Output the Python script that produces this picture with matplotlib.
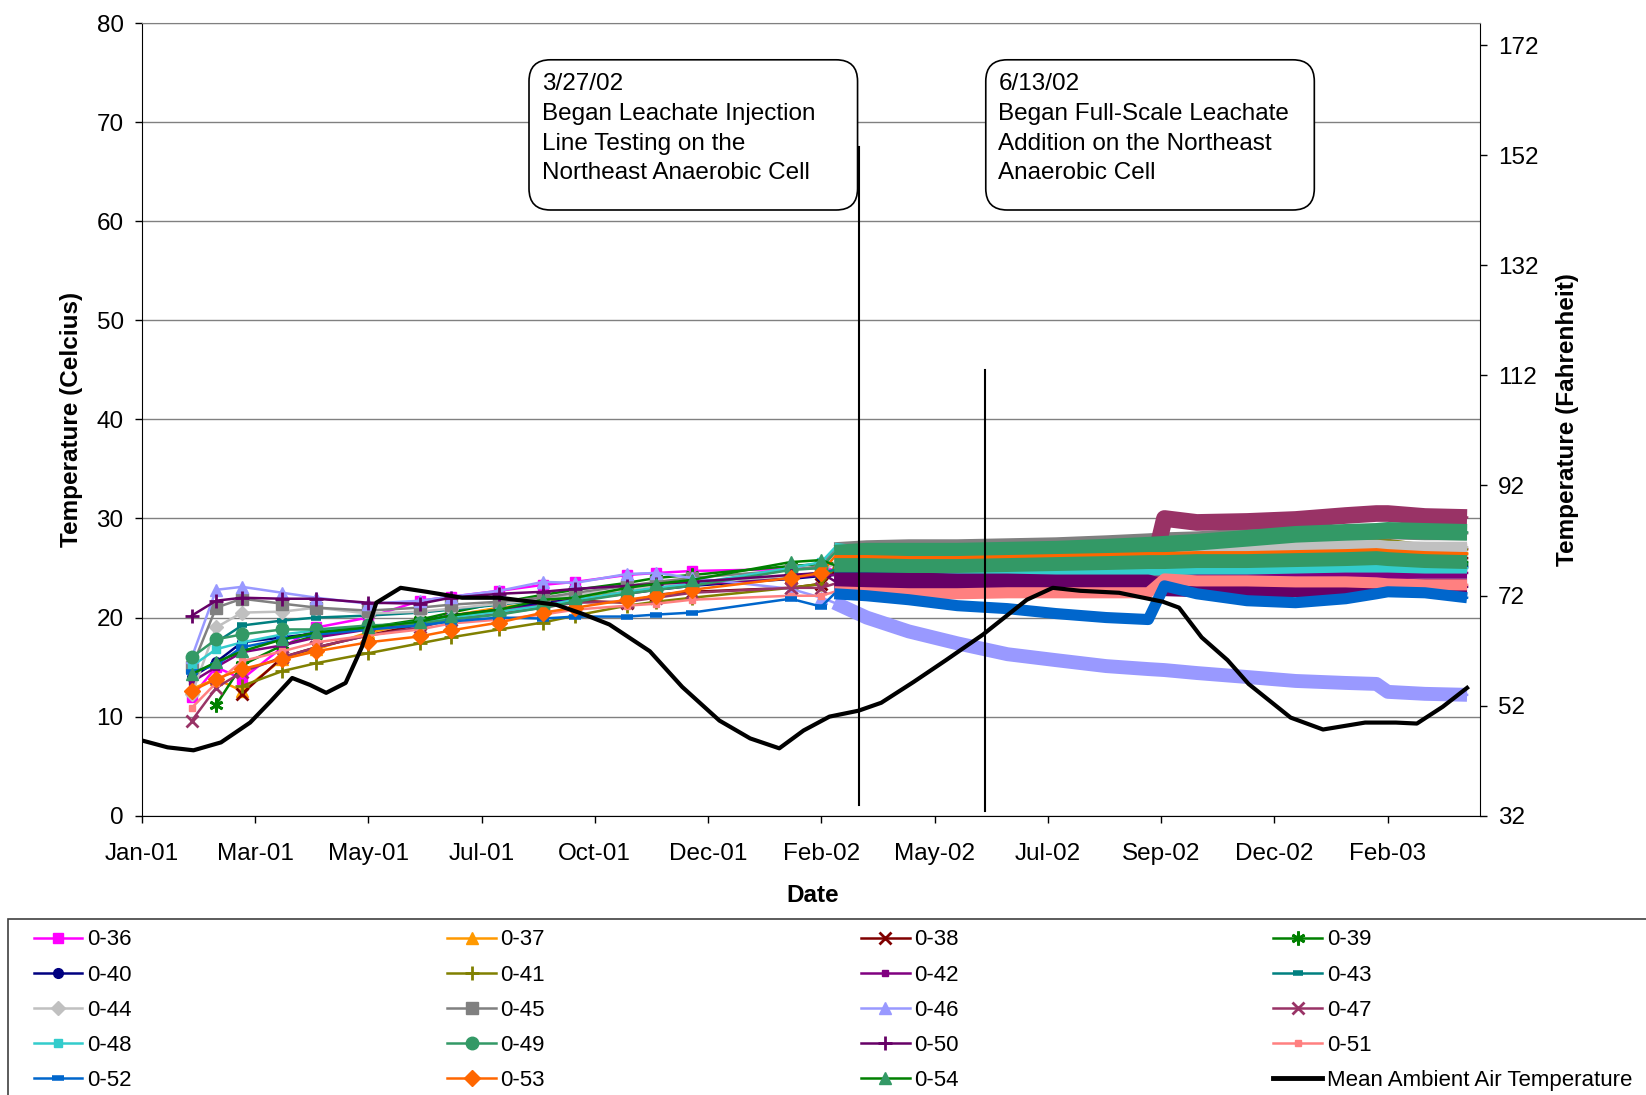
import numpy as np
import matplotlib
matplotlib.use('Agg')
import matplotlib.pyplot as plt
import matplotlib.dates as mdates
from matplotlib.patches import FancyBboxPatch, Rectangle
from matplotlib.lines import Line2D

plt.rcParams['font.family'] = ['Liberation Sans', 'DejaVu Sans']

nan = np.nan

# --- DATA ---
# monthly-ish readings 2001 - Feb 2002
S_DATES = ['2001-02-01', '2001-02-16', '2001-03-04', '2001-03-29', '2001-04-19', '2001-05-21',
           '2001-06-22', '2001-07-11', '2001-08-10', '2001-09-06', '2001-09-26', '2001-10-28',
           '2001-11-15', '2001-12-07', '2002-02-06', '2002-02-25']
# continuous logger readings Mar 2002 - Mar 2003
D_DATES = ['2002-03-05', '2002-03-25', '2002-04-20', '2002-05-20', '2002-06-20', '2002-07-20',
           '2002-08-20', '2002-09-15', '2002-09-25', '2002-10-15', '2002-11-15', '2002-12-15',
           '2003-01-15', '2003-02-03', '2003-02-10', '2003-03-05', '2003-03-31']

NAMES = ['0-36', '0-37', '0-38', '0-39', '0-40', '0-41', '0-42', '0-43', '0-44', '0-45',
         '0-46', '0-47', '0-48', '0-49', '0-50', '0-51', '0-52', '0-53', '0-54']

S36 = [12.0, 15.0, 13.8, 17.0, 19.0, 20.0, 21.7, 22.1, 22.7, 23.3, 23.6, 24.3, 24.5, 24.7, 24.9, 25.0]
S37 = [12.8, 13.8, 12.6, 15.8, 16.8, 18.5, 19.5, 20.2, 21.0, 21.5, 22.0, 22.6, 23.0, 23.3, 24.2, 24.5]
S38 = [nan, nan, 12.3, 16.0, 17.0, 18.2, 19.3, 20.0, 20.8, 21.3, 21.7, 21.5, 22.3, 22.6, 23.0, 23.4]
S39 = [nan, 11.2, 15.2, 17.2, 18.2, 19.0, 19.8, 20.5, 21.5, 22.3, 22.8, 23.5, 24.0, 24.3, 25.2, 25.4]
S40 = [14.0, 15.5, 17.5, 18.0, 18.4, 19.0, 19.6, 20.2, 20.8, 21.5, 21.8, 22.5, 22.8, 23.2, 23.9, 24.2]
S41 = [nan, nan, 13.1, 14.6, 15.4, 16.4, 17.4, 18.0, 18.8, 19.5, 20.2, 21.2, 21.6, 22.0, 23.0, 23.4]
S42 = [13.5, 15.0, 16.5, 17.2, 18.0, 18.8, 19.5, 20.0, 20.7, 21.3, 21.8, 22.4, 22.8, 23.3, 24.0, 24.3]
S43 = [nan, 17.5, 19.2, 19.7, 20.0, 20.2, 20.5, 20.8, 21.3, 21.8, 22.2, 22.8, 23.2, 23.5, 24.2, 24.5]
S44 = [12.3, 19.0, 20.5, 20.6, 21.0, 20.4, 20.6, 20.9, 21.4, 21.8, 22.3, 22.8, 23.2, 23.5, 24.2, 24.5]
S45 = [15.0, 21.0, 21.9, 21.4, 21.0, 20.7, 21.0, 21.3, 21.6, 22.0, 22.5, 23.2, 23.6, 24.0, 24.8, 25.2]
S46 = [16.0, 22.8, 23.1, 22.5, 22.0, 21.4, 21.7, 22.1, 22.7, 23.6, 23.5, 24.4, 24.5, 24.0, 22.9, 22.0]
S47 = [9.6, 12.9, 14.5, 16.0, 17.0, 18.2, 19.0, 19.8, 20.4, 21.0, 21.5, 21.6, 22.0, 22.5, 23.0, 23.0]
S48 = [15.1, 16.8, 17.5, 18.3, 18.7, 19.0, 19.6, 20.0, 20.6, 21.2, 21.8, 22.6, 23.0, 23.4, 25.0, 25.6]
S49 = [16.0, 17.8, 18.3, 18.8, 18.8, 19.2, 19.4, 19.8, 20.3, 21.0, 21.6, 22.4, 22.8, 23.2, 24.8, 25.0]
S50 = [20.2, 21.7, 22.0, 21.9, 21.9, 21.5, 21.4, 22.0, 22.4, 22.6, 22.9, 23.2, 23.4, 23.6, 24.3, 24.5]
S51 = [10.9, 13.4, 15.6, 16.6, 17.5, 18.2, 18.8, 19.4, 19.8, 20.3, 20.8, 21.2, 21.4, 21.8, 22.2, 22.2]
S52 = [14.5, 15.2, 17.0, 17.8, 18.3, 18.8, 19.2, 19.6, 20.0, 19.9, 20.1, 20.1, 20.3, 20.5, 21.9, 21.1]
S53 = [12.6, 13.8, 14.8, 15.8, 16.6, 17.5, 18.1, 18.7, 19.5, 20.5, 21.0, 21.8, 22.2, 22.8, 24.0, 24.5]
S54 = [14.3, 15.5, 16.6, 17.8, 18.5, 19.0, 19.6, 20.2, 20.8, 21.8, 22.0, 23.0, 23.4, 23.8, 25.6, 25.8]

D36 = [24.8, 25.0, 25.2, 25.4, 25.6, 25.8, 26.0, 26.1, 26.2, 26.4, 26.6, 26.8, 27.0, 27.1, 27.0, 26.9, 26.9]
D37 = [24.5, 24.8, 25.0, 25.2, 25.4, 25.6, 25.8, 26.0, 26.1, 26.3, 26.5, 26.8, 27.0, 27.2, 27.0, 26.6, 26.5]
D38 = [24.6, 25.8, 26.0, 25.5, 25.0, 25.0, 25.2, 25.3, 25.4, 25.5, 25.6, 25.7, 25.8, 25.9, 26.0, 26.0, 26.0]
D39 = [25.5, 25.0, 24.8, 24.7, 24.6, 24.5, 24.5, 24.5, 24.5, 24.5, 24.5, 24.6, 24.7, 24.8, 25.0, 25.2, 25.3]
D40 = [24.3, 24.2, 24.2, 24.3, 24.4, 24.5, 24.6, 24.6, 24.7, 24.8, 24.9, 25.0, 25.0, 25.1, 25.1, 25.1, 25.1]
D41 = [25.0, 25.2, 25.4, 25.6, 25.8, 26.0, 26.3, 26.5, 26.6, 26.9, 27.2, 27.4, 27.5, 27.5, 27.4, 26.9, 26.9]
D42 = [24.3, 24.3, 24.2, 24.2, 24.1, 24.1, 24.0, 24.0, 24.0, 24.0, 24.0, 24.0, 24.1, 24.3, 24.4, 24.5, 24.5]
D43 = [24.8, 24.7, 24.8, 24.9, 25.0, 25.0, 25.1, 25.1, 25.2, 25.3, 25.3, 25.4, 25.4, 25.5, 25.5, 25.5, 25.5]
D44 = [25.5, 25.6, 25.8, 26.0, 26.2, 26.4, 26.6, 26.7, 26.8, 27.0, 27.1, 27.2, 27.3, 27.3, 27.2, 27.1, 27.1]
D45 = [26.9, 27.1, 27.2, 27.2, 27.3, 27.4, 27.6, 27.8, 27.9, 28.0, 28.3, 28.5, 28.6, 28.6, 28.6, 28.5, 28.5]
D46 = [21.5, 20.0, 18.6, 17.4, 16.3, 15.7, 15.1, 14.8, 14.7, 14.4, 14.0, 13.6, 13.4, 13.3, 12.5, 12.3, 12.2]
D47 = [23.4, 23.3, 23.2, 23.2, 23.2, 23.2, 23.2, 23.2, 30.0, 29.6, 29.7, 29.9, 30.3, 30.5, 30.5, 30.2, 30.1]
D48 = [27.0, 26.6, 25.2, 24.9, 24.8, 24.8, 24.8, 24.8, 24.8, 24.9, 24.9, 25.0, 25.1, 25.1, 25.1, 25.0, 25.0]
D49 = [26.5, 26.7, 26.7, 26.7, 26.8, 26.9, 27.1, 27.3, 27.4, 27.6, 28.0, 28.4, 28.6, 28.7, 28.8, 28.7, 28.6]
D50 = [23.7, 23.7, 23.7, 23.6, 23.6, 23.5, 23.5, 23.5, 23.0, 22.9, 22.9, 22.9, 22.9, 23.0, 23.0, 23.1, 23.1]
D51 = [22.6, 22.5, 22.4, 22.4, 22.5, 22.5, 22.5, 22.5, 23.9, 23.7, 23.7, 23.6, 23.6, 23.5, 23.4, 23.3, 23.3]
D52 = [22.4, 22.2, 21.8, 21.2, 20.9, 20.4, 20.0, 19.8, 23.2, 22.4, 21.7, 21.5, 21.9, 22.4, 22.6, 22.5, 22.0]
D53 = [26.1, 26.1, 26.0, 26.0, 26.1, 26.2, 26.3, 26.4, 26.4, 26.5, 26.5, 26.6, 26.7, 26.8, 26.7, 26.5, 26.4]
D54 = [25.3, 25.3, 25.2, 25.2, 25.3, 25.4, 25.5, 25.6, 25.6, 25.7, 25.7, 25.8, 25.9, 26.0, 25.9, 25.7, 25.6]

SPARSE = [S36, S37, S38, S39, S40, S41, S42, S43, S44, S45, S46, S47, S48, S49, S50, S51, S52, S53, S54]
DENSE = [D36, D37, D38, D39, D40, D41, D42, D43, D44, D45, D46, D47, D48, D49, D50, D51, D52, D53, D54]

AMB_DATES = ['2001-01-01', '2001-01-17', '2001-02-02', '2001-02-19', '2001-03-09', '2001-03-22',
             '2001-04-04', '2001-04-15', '2001-04-25', '2001-05-07', '2001-05-17', '2001-05-26',
             '2001-06-10', '2001-06-26', '2001-07-18', '2001-08-10', '2001-09-14', '2001-09-30',
             '2001-10-17', '2001-11-11', '2001-12-01', '2001-12-24', '2002-01-12', '2002-01-30',
             '2002-02-14', '2002-03-02', '2002-03-20', '2002-04-03', '2002-04-23', '2002-05-13',
             '2002-06-05', '2002-07-02', '2002-07-18', '2002-08-04', '2002-08-28', '2002-09-24',
             '2002-10-04', '2002-10-18', '2002-11-03', '2002-11-16', '2002-12-12', '2003-01-01',
             '2003-01-27', '2003-02-15', '2003-02-28', '2003-03-16', '2003-03-31']
AMB_VALS = [7.6, 6.9, 6.6, 7.4, 9.4, 11.6, 13.9, 13.2, 12.4, 13.4, 17.0, 21.5, 23.0, 22.6, 22.0,
            22.0, 21.3, 20.4, 19.3, 16.6, 13.0, 9.6, 7.8, 6.8, 8.6, 10.0, 10.6, 11.4, 13.5, 15.7,
            18.3, 21.8, 23.0, 22.7, 22.5, 21.6, 21.0, 18.0, 15.7, 13.3, 9.9, 8.7, 9.4, 9.4, 9.3,
            11.0, 12.9]

EVENT_DATES = ['2002-03-20', '2002-06-06']
EVENT_SPANS = [(1.1, 67.5), (0.5, 45.0)]
EVENT_TEXT = ['3/27/02\nBegan Leachate Injection\nLine Testing on the\nNortheast Anaerobic Cell',
              '6/13/02\nBegan Full-Scale Leachate\nAddition on the Northeast\nAnaerobic Cell']

# --- STYLES: (line colour, marker, size, edge width, marker colour, band colour, band width) ---
STYLES = [
    ('#FF00FF', 's', 7, 1, '#FF00FF', '#FF00FF', 8),
    ('#FF9900', '^', 8, 1, '#FF9900', '#FF9900', 8),
    ('#800000', 'x', 8, 2, '#800000', '#800000', 8),
    ('#008000', (6, 2, 0), 10, 2, '#008000', '#008000', 8),
    ('#000080', 'o', 7, 1, '#000080', '#000080', 8),
    ('#808000', '+', 10, 2, '#808000', '#808000', 8),
    ('#800080', 's', 4, 1, '#800080', '#800080', 8),
    ('#008080', '_', 7, 4, '#008080', '#008080', 8),
    ('#C0C0C0', 'D', 7, 1, '#C0C0C0', '#C0C0C0', 8),
    ('#808080', 's', 8, 1, '#808080', '#808080', 10),
    ('#9999FF', '^', 8, 1, '#9999FF', '#9999FF', 10),
    ('#993366', 'x', 8, 2, '#993366', '#993366', 12),
    ('#33CCCC', 's', 6, 1, '#33CCCC', '#33CCCC', 8),
    ('#339966', 'o', 9, 1, '#339966', '#339966', 12),
    ('#660066', '+', 10, 2, '#660066', '#660066', 12),
    ('#FF8080', 's', 4, 1, '#FF8080', '#FF8080', 8),
    ('#0066CC', '_', 8, 4, '#0066CC', '#0066CC', 8),
    ('#FF6600', 'D', 8, 1, '#FF6600', '#FF6600', 3),
    ('#008000', '^', 9, 1, '#339966', '#339966', 10),
]

W, H = 1646, 1095
fig = plt.figure(figsize=(W / 100, H / 100), dpi=100)
ax = fig.add_axes([141.7 / W, 1 - 815.7 / H, (1480 - 141.7) / W, (815.7 - 23.1) / H])

s_dates = np.array(S_DATES, dtype='datetime64[D]')
d_dates = np.array(D_DATES, dtype='datetime64[D]')
all_dates = np.concatenate([s_dates, d_dates])
n_s = len(S_DATES)

handles = []
for i, name in enumerate(NAMES):
    col, mk, ms, mew, mcol, bcol, blw = STYLES[i]
    vals = np.array(SPARSE[i] + DENSE[i], dtype=float)
    z = 3 + i * 0.01
    ax.plot(all_dates, vals, color=col, lw=1.8, marker=mk, ms=ms, mew=mew,
            mfc=mcol, mec=mcol, markevery=list(range(n_s)), zorder=z)
    ax.plot(d_dates, DENSE[i], color=bcol, lw=blw, solid_capstyle='butt', zorder=z)
    handles.append(Line2D([], [], color=col, lw=1.8, marker=mk, ms=ms, mew=mew,
                          mfc=mcol, mec=mcol, label=name))

amb_dates = np.array(AMB_DATES, dtype='datetime64[D]')
ax.plot(amb_dates, AMB_VALS, color='black', lw=3, zorder=4)
handles.append(Line2D([], [], color='black', lw=3.5, label='Mean Ambient Air Temperature'))

# event lines
for d, (y0, y1) in zip(EVENT_DATES, EVENT_SPANS):
    ax.plot([np.datetime64(d), np.datetime64(d)], [y0, y1], color='black', lw=1.5, zorder=5)

# axes setup
start = np.datetime64('2001-01-01')
ax.set_xlim(start, start + 827)
ax.set_ylim(0, 80)
ax.set_xticks(start + np.arange(12) * 70)
ax.xaxis.set_major_formatter(mdates.DateFormatter('%b-%y'))
ax.set_yticks(np.arange(0, 81, 10))
ax.yaxis.grid(True, color='#808080', lw=1)
ax.set_axisbelow(True)
ax.tick_params(axis='both', labelsize=17.5, direction='out', length=5, width=1, colors='black')
ax.tick_params(axis='x', pad=14.5)
ax.tick_params(axis='y', pad=8)
ax.spines['top'].set_color('#808080')
for s in ['left', 'bottom', 'right']:
    ax.spines[s].set_color('black')

ax.set_ylabel('Temperature (Celcius)', fontsize=17.5, fontweight='bold')
ax.yaxis.set_label_coords(-0.044, 0.5)
ax.set_xlabel('Date', fontsize=17.5, fontweight='bold')
ax.xaxis.set_label_coords(0.501, -0.086)

ax2 = ax.twinx()
ax2.set_ylim(32, 176)
ax2.set_yticks(np.arange(32, 173, 20))
ax2.tick_params(axis='y', labelsize=17.5, direction='out', length=5, width=1, pad=8)
ax2.set_ylabel('Temperature (Fahrenheit)', fontsize=17.5, fontweight='bold')
ax2.yaxis.set_label_coords(1.0566, 0.5)
for s in ax2.spines.values():
    s.set_visible(False)

# annotation boxes (axes fraction)
boxes = [(0.2894, 0.5349), (0.6307, 0.8762)]
for (x0, x1), txt in zip(boxes, EVENT_TEXT):
    y0, y1 = 0.7642, 0.9537
    p = FancyBboxPatch((x0, y0), x1 - x0, y1 - y0, transform=ax.transAxes,
                       boxstyle='round,pad=0,rounding_size=0.016', mutation_aspect=1.69,
                       fc='white', ec='black', lw=1.2, zorder=6)
    ax.add_patch(p)
    ax.text(x0 + 0.0094, 0.9367, txt, transform=ax.transAxes, fontsize=17.5,
            va='top', ha='left', linespacing=1.45, zorder=7)

# legend frame + four columns
fig.patches.append(Rectangle((8.4 / W, -0.05), 1.1, (H - 918.5) / H + 0.05,
                             transform=fig.transFigure, fill=False, ec='#404040', lw=1.2))
col_x = [33.6, 447.2, 860.8, 1273.4]
for c in range(4):
    hs = [handles[r * 4 + c] for r in range(5)]
    fig.legend(handles=hs, loc='upper left', bbox_to_anchor=(col_x[c] / W, 1 - 929.3 / H),
               bbox_transform=fig.transFigure, frameon=False, fontsize=16,
               handlelength=2.2, handletextpad=0.2, labelspacing=0.64,
               borderpad=0, borderaxespad=0)

fig.savefig('out.png', dpi=100)
